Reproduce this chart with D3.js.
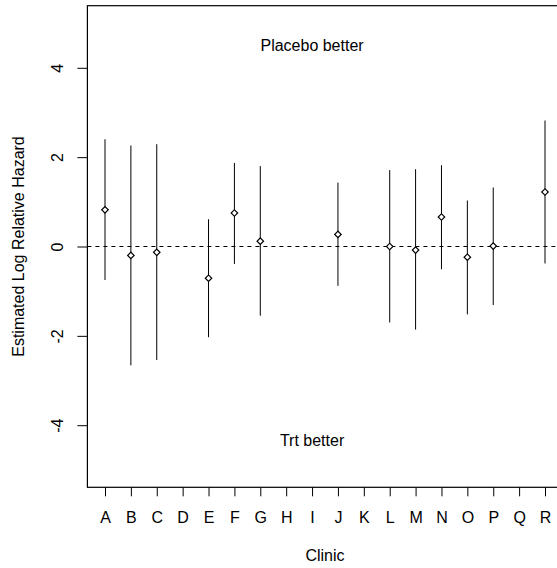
<!DOCTYPE html>
<html lang="en">
<head>
	<meta charset="utf-8">
	<title>Estimated log relative hazard by clinic</title>
	<style>
		body {
			margin: 0px;
			background-color: #ffffff;
			overflow: hidden;
		}
		text {
			font-family: "Liberation Sans", Arial, Helvetica, sans-serif;
			font-size: 16px;
			fill: #000;
		}
	</style>
</head>
<body>
	<svg id="chart" width="557" height="568"></svg>
	<script src="https://cdn.jsdelivr.net/npm/d3@7/dist/d3.min.js"></script>
	<script>
	// clinics along the x axis (D, H, I, K, Q have no estimate)
	var clinics = ["A","B","C","D","E","F","G","H","I","J","K","L","M","N","O","P","Q","R"];
	var estClinic = ["A","B","C","E","F","G","J","L","M","N","O","P","R"];
	var estimate  = [0.82, -0.20, -0.13, -0.71, 0.75, 0.12, 0.27, 0.00, -0.08, 0.66, -0.24, 0.01, 1.22];
	var lower     = [-0.75, -2.66, -2.54, -2.03, -0.39, -1.55, -0.88, -1.70, -1.86, -0.51, -1.52, -1.31, -0.38];
	var upper     = [2.40, 2.26, 2.29, 0.61, 1.87, 1.80, 1.43, 1.71, 1.73, 1.82, 1.03, 1.32, 2.82];
	var yTicks = [-4, -2, 0, 2, 4];
	var noteText  = ["Placebo better", "Trt better"];
	var noteValue = [4.5, -4.33];
	var noteClinic = "I";

	var svg = d3.select("#chart");

	// plot region (right edge of the box runs past the window like the original)
	var plotLeft = 87.4, plotRight = 562.6, plotTop = 5.7, plotBottom = 487.3;

	var x = d3.scaleLinear()
		.domain([0.32, 18.68])
		.range([plotLeft, plotRight]);

	var y = d3.scaleLinear()
		.domain([-5.39, 5.39])
		.range([plotBottom, plotTop]);

	function xc(name) { return x(clinics.indexOf(name) + 1); }

	// x axis
	var gx = svg.append("g")
		.attr("transform", "translate(0," + plotBottom + ")")
		.call(d3.axisBottom(x)
			.tickValues(d3.range(1, clinics.length + 1))
			.tickFormat(function(d) { return clinics[d - 1]; })
			.tickSize(9)
			.tickPadding(0));
	gx.select(".domain").remove();
	gx.attr("font-family", null).attr("font-size", null);
	gx.selectAll(".tick line").attr("stroke", "#000");
	gx.selectAll(".tick text")
		.attr("y", 36)
		.attr("dy", null);

	// y axis
	var gy = svg.append("g")
		.attr("transform", "translate(" + plotLeft + ",0)")
		.call(d3.axisLeft(y)
			.tickValues(yTicks)
			.tickFormat(d3.format("d"))
			.tickSize(10));
	gy.select(".domain").remove();
	gy.attr("font-family", null).attr("font-size", null);
	gy.selectAll(".tick line").attr("stroke", "#000");
	gy.selectAll(".tick text")
		.attr("x", null).attr("dy", null)
		.attr("text-anchor", "middle")
		.attr("transform", "translate(-24.3,0) rotate(-90)")
		.text(function(d) { return d < 0 ? "-" + Math.abs(d) : d; });

	// box
	svg.append("rect")
		.attr("x", plotLeft)
		.attr("y", plotTop)
		.attr("width", plotRight - plotLeft)
		.attr("height", plotBottom - plotTop)
		.attr("fill", "none")
		.attr("stroke", "#000")
		.attr("stroke-width", 1.2);

	// reference line at zero
	svg.append("line")
		.attr("x1", plotLeft).attr("x2", plotRight)
		.attr("y1", y(0)).attr("y2", y(0))
		.attr("stroke", "#000")
		.attr("stroke-dasharray", "4,4");

	// interval bars
	svg.append("g").selectAll("line")
		.data(estClinic)
		.join("line")
		.attr("x1", function(d) { return xc(d); })
		.attr("x2", function(d) { return xc(d); })
		.attr("y1", function(d, i) { return y(lower[i]); })
		.attr("y2", function(d, i) { return y(upper[i]); })
		.attr("stroke", "#000")
		.attr("stroke-width", 1);

	// point estimates as open diamonds
	var diamond = d3.symbol().type(d3.symbolSquare).size(21);
	svg.append("g").selectAll("path")
		.data(estClinic)
		.join("path")
		.attr("d", diamond)
		.attr("transform", function(d, i) {
			return "translate(" + xc(d) + "," + y(estimate[i]) + ") rotate(45)";
		})
		.attr("fill", "#fff")
		.attr("stroke", "#000")
		.attr("stroke-width", 1.2);

	// annotations
	svg.append("g").selectAll("text")
		.data(noteText)
		.join("text")
		.attr("x", xc(noteClinic))
		.attr("y", function(d, i) { return y(noteValue[i]); })
		.attr("dy", "0.36em")
		.attr("text-anchor", "middle")
		.text(function(d) { return d; });

	// axis titles
	svg.append("text")
		.attr("x", (plotLeft + plotRight) / 2)
		.attr("y", 560.7)
		.attr("text-anchor", "middle")
		.text("Clinic");

	svg.append("text")
		.attr("transform", "translate(24.4," + ((plotTop + plotBottom) / 2) + ") rotate(-90)")
		.attr("text-anchor", "middle")
		.text("Estimated Log Relative Hazard");
	</script>
</body>
</html>
